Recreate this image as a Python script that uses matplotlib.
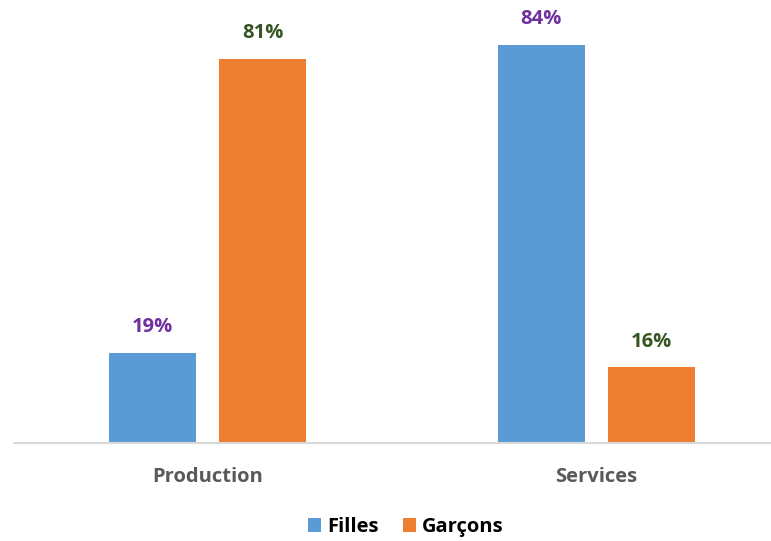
import matplotlib
matplotlib.use("Agg")
import matplotlib.pyplot as plt
import numpy as np

categories = ["Production", "Services"]
series_names = ["Filles", "Garçons"]
filles = [19, 84]
garcons = [81, 16]
label_colors = ["#7030A0", "#375623"]
bar_colors = ["#5B9BD5", "#ED7D31"]

plt.rcParams['font.family'] = ['Open Sans', 'DejaVu Sans']

fig = plt.figure(figsize=(7.71, 5.41), dpi=100)
ax = fig.add_axes([14/771, 1 - 443/541, 1 - 14/771, 443/541])

x = np.arange(len(categories))
w = 0.2237
off = 0.142
for vals, o, c, lc, name in [(filles, -off, bar_colors[0], label_colors[0], series_names[0]),
                             (garcons, off, bar_colors[1], label_colors[1], series_names[1])]:
    bars = ax.bar(x + o, vals, w, color=c, label=name, zorder=2)
    for b, v in zip(bars, vals):
        ax.text(b.get_x() + b.get_width()/2, v + 3.3, f"{v}%", ha='center', va='bottom',
                color=lc, fontsize=14.5, fontweight='bold')

ax.set_xlim(-0.497, 1.449)
ax.set_ylim(0, 443/4.74)
for s in ['top', 'right', 'left']:
    ax.spines[s].set_visible(False)
ax.spines['bottom'].set_color('#D9D9D9')
ax.spines['bottom'].set_linewidth(1.5)
ax.set_yticks([])
ax.set_xticks(x)
ax.set_xticklabels(categories, fontsize=14.5, fontweight='bold', color='#595959')
ax.tick_params(axis='x', length=0, pad=17)

fig.legend(loc='center', bbox_to_anchor=(406/771, 1 - 527/541), ncol=2, frameon=False,
           prop={'size': 14.5, 'weight': 'bold'}, handlelength=0.65, handleheight=0.65,
           handletextpad=0.3, columnspacing=1.2)

fig.savefig("out.png", dpi=100)
